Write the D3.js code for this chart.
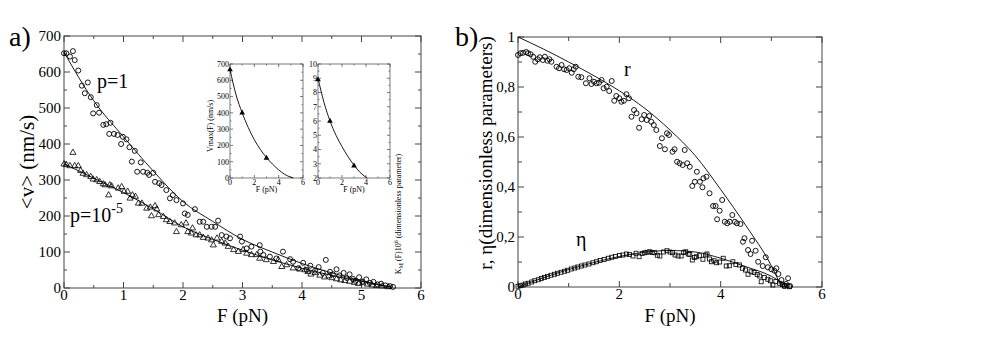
<!DOCTYPE html>
<html>
<head>
<meta charset="utf-8">
<script src="https://cdn.jsdelivr.net/npm/d3@7"></script>
<style>
  body { margin: 0; background: #fff; }
  text { font-family: "Liberation Serif", "Times New Roman", serif; fill: #000; }
</style>
</head>
<body>
<svg width="981" height="359" font-family="Liberation Serif, serif"></svg>
<script>
// ---- panel a) : <v> vs F ----
var p1Pts = [[0,652],[0.04,652],[0.1,643],[0.15,658],[0.18,633],[0.24,604],[0.3,562],[0.35,541],[0.4,571],[0.45,530],[0.49,485],[0.55,508],[0.59,487],[0.66,453],[0.71,455],[0.76,428],[0.78,459],[0.84,428],[0.9,425],[0.96,400],[0.99,420],[1.05,413],[1.1,391],[1.14,351],[1.19,381],[1.23,323],[1.29,349],[1.33,323],[1.4,320],[1.43,314],[1.5,320],[1.53,295],[1.6,291],[1.64,286],[1.72,272],[1.78,249],[1.83,258],[1.89,244],[2.0,235],[2.03,207],[2.08,203],[2.2,219],[2.28,184],[2.34,184],[2.4,170],[2.48,170],[2.54,170],[2.59,187],[2.65,147],[2.73,143],[2.79,138],[2.96,143],[2.99,129],[3.07,110],[3.15,115],[3.29,119],[3.3,101],[3.35,92],[3.46,87],[3.57,82],[3.68,101],[3.8,80],[3.85,73],[3.94,55],[4.02,70],[4.08,50],[4.14,62],[4.22,48],[4.28,58],[4.35,42],[4.4,78],[4.47,45],[4.52,38],[4.58,52],[4.63,35],[4.7,42],[4.75,28],[4.8,38],[4.86,25],[4.9,20],[4.96,30],[5.02,18],[5.08,24],[5.14,14],[5.2,17],[5.27,10],[5.33,12],[5.4,7],[5.48,5],[5.53,3]];

var p5Pts = [[0,344],[0.04,342],[0.1,339],[0.15,376],[0.18,339],[0.24,339],[0.28,326],[0.32,318],[0.38,314],[0.45,309],[0.49,302],[0.55,300],[0.6,295],[0.66,289],[0.69,286],[0.75,258],[0.77,286],[0.8,283],[0.91,277],[0.97,281],[1.01,268],[1.07,268],[1.11,249],[1.15,258],[1.2,254],[1.25,235],[1.31,235],[1.39,221],[1.45,224],[1.47,200],[1.53,228],[1.56,219],[1.59,203],[1.67,198],[1.72,189],[1.78,184],[1.86,180],[1.89,156],[1.97,175],[2.05,180],[2.08,156],[2.14,152],[2.16,166],[2.22,147],[2.28,147],[2.34,140],[2.42,138],[2.48,133],[2.51,119],[2.57,138],[2.65,129],[2.71,124],[2.76,115],[2.85,106],[2.93,101],[3.01,106],[3.07,96],[3.15,92],[3.24,92],[3.29,82],[3.4,78],[3.52,73],[3.6,78],[3.66,59],[3.74,64],[3.85,55],[3.96,52],[4.05,50],[4.1,45],[4.15,38],[4.22,42],[4.3,35],[4.38,30],[4.45,33],[4.5,28],[4.58,25],[4.65,22],[4.72,20],[4.8,18],[4.88,15],[4.95,12],[5.02,14],[5.1,10],[5.18,8],[5.25,6],[5.35,5],[5.45,3]];

var p1Fit = [[0,655],[0.5,520],[1,420],[1.5,325],[2,240],[2.5,185],[3,135],[3.5,100],[4,68],[4.5,42],[5,20],[5.5,2]];
var p5Fit = [[0,345],[0.5,305],[1,265],[1.5,220],[2,170],[2.5,135],[3,105],[3.5,78],[4,55],[4.5,35],[5,18],[5.5,3]];

// insets
var vmaxPts = [[0,665],[1,400],[3,122]];
var vmaxFit = [[0,665],[0.5,510],[1,400],[1.5,310],[2,235],[2.5,175],[3,125],[3.5,85],[4,50],[4.5,22],[5,5],[5.2,0]];
var kmPts = [[0,8.9],[1,6],[3,2.85]];
var kmFit = [[0,9],[0.5,7.3],[1,6],[1.5,5.0],[2,4.2],[2.5,3.5],[3,2.9],[3.5,2.4],[4,2.05],[4.1,2]];

// ---- panel b) : r, eta vs F ----
var rPts = [[0,0.928],[0.05,0.935],[0.1,0.937],[0.16,0.94],[0.2,0.935],[0.25,0.931],[0.3,0.921],[0.34,0.901],[0.39,0.911],[0.43,0.919],[0.49,0.908],[0.53,0.921],[0.58,0.905],[0.62,0.911],[0.66,0.901],[0.76,0.881],[0.81,0.875],[0.86,0.888],[0.91,0.871],[0.96,0.868],[1.01,0.875],[1.06,0.857],[1.1,0.871],[1.14,0.881],[1.19,0.841],[1.25,0.839],[1.34,0.815],[1.41,0.835],[1.45,0.812],[1.5,0.821],[1.55,0.815],[1.6,0.817],[1.65,0.828],[1.69,0.795],[1.75,0.801],[1.8,0.784],[1.85,0.824],[1.9,0.745],[1.94,0.764],[2.0,0.755],[2.04,0.741],[2.09,0.745],[2.14,0.771],[2.19,0.755],[2.24,0.681],[2.29,0.708],[2.34,0.695],[2.39,0.637],[2.44,0.671],[2.49,0.688],[2.54,0.668],[2.59,0.684],[2.63,0.661],[2.68,0.648],[2.73,0.628],[2.8,0.564],[2.84,0.595],[2.9,0.551],[2.94,0.615],[2.98,0.608],[3.05,0.541],[3.09,0.551],[3.14,0.501],[3.19,0.495],[3.25,0.488],[3.29,0.548],[3.34,0.495],[3.39,0.481],[3.44,0.404],[3.49,0.421],[3.53,0.461],[3.59,0.421],[3.64,0.399],[3.66,0.435],[3.72,0.441],[3.78,0.375],[3.85,0.324],[3.9,0.324],[3.93,0.271],[3.98,0.305],[4.03,0.348],[4.08,0.261],[4.13,0.255],[4.18,0.261],[4.23,0.288],[4.28,0.261],[4.32,0.255],[4.39,0.252],[4.44,0.181],[4.47,0.195],[4.54,0.148],[4.59,0.132],[4.62,0.185],[4.69,0.145],[4.74,0.101],[4.83,0.084],[4.89,0.119],[4.93,0.079],[5.0,0.071],[5.06,0.065],[5.1,0.075],[5.14,0.052],[5.2,0.028],[5.26,0.004],[5.29,0.012],[5.33,0.035],[5.37,0.004]];

var etaPts = [[0,0.003],[0.05,0.005],[0.1,0.008],[0.15,0.012],[0.2,0.015],[0.27,0.02],[0.33,0.025],[0.4,0.029],[0.46,0.034],[0.52,0.038],[0.58,0.042],[0.65,0.047],[0.72,0.051],[0.78,0.055],[0.85,0.059],[0.92,0.063],[0.98,0.067],[1.05,0.072],[1.12,0.076],[1.18,0.08],[1.25,0.084],[1.32,0.088],[1.4,0.092],[1.48,0.097],[1.55,0.101],[1.62,0.106],[1.7,0.11],[1.78,0.115],[1.85,0.119],[1.92,0.122],[2.0,0.126],[2.07,0.128],[2.14,0.132],[2.2,0.13],[2.27,0.124],[2.33,0.135],[2.39,0.121],[2.45,0.134],[2.5,0.137],[2.55,0.139],[2.6,0.141],[2.65,0.138],[2.7,0.137],[2.75,0.127],[2.8,0.124],[2.87,0.14],[2.94,0.145],[3.0,0.14],[3.05,0.137],[3.1,0.128],[3.16,0.124],[3.22,0.124],[3.27,0.138],[3.31,0.141],[3.36,0.132],[3.39,0.13],[3.44,0.108],[3.48,0.118],[3.52,0.121],[3.58,0.125],[3.65,0.111],[3.7,0.128],[3.73,0.132],[3.78,0.112],[3.82,0.101],[3.87,0.105],[3.92,0.097],[3.98,0.1],[4.05,0.115],[4.11,0.084],[4.17,0.085],[4.24,0.101],[4.3,0.09],[4.37,0.088],[4.43,0.075],[4.49,0.068],[4.54,0.051],[4.6,0.061],[4.66,0.058],[4.72,0.05],[4.77,0.044],[4.8,0.021],[4.86,0.038],[4.93,0.031],[4.98,0.025],[5.03,0.008],[5.09,0.022],[5.16,0.015],[5.22,0.01],[5.26,0.004],[5.31,0.006],[5.36,0.001]];

var rFit = [[0,1.0],[0.5,0.952],[1,0.9],[1.5,0.845],[2,0.785],[2.5,0.715],[3,0.628],[3.5,0.525],[4,0.39],[4.5,0.245],[5,0.085],[5.2,0]];
var etaFit = [[0,0],[0.5,0.037],[1,0.07],[1.5,0.098],[2,0.122],[2.5,0.139],[3,0.146],[3.5,0.14],[4,0.115],[4.5,0.081],[5,0.043],[5.3,0.005]];

var svg = d3.select("svg");
var frameCol = "#444";

// draws the box, inward ticks on all four sides and the labels
function box(g, x, y, o) {
  var x0 = x.range()[0], x1 = x.range()[1], y0 = y.range()[0], y1 = y.range()[1];
  g.append("rect").attr("x", x0).attr("y", y1).attr("width", x1 - x0).attr("height", y0 - y1)
    .attr("fill", "none").attr("stroke", frameCol).attr("stroke-width", o.sw || 1);
  function tk(vals, len) {
    vals.forEach(function(v) {
      g.append("line").attr("x1", x(v)).attr("x2", x(v)).attr("y1", y0).attr("y2", y0 - len).attr("stroke", frameCol).attr("stroke-width", o.sw || 1);
      g.append("line").attr("x1", x(v)).attr("x2", x(v)).attr("y1", y1).attr("y2", y1 + len).attr("stroke", frameCol).attr("stroke-width", o.sw || 1);
    });
  }
  function tky(vals, len) {
    vals.forEach(function(v) {
      g.append("line").attr("x1", x0).attr("x2", x0 + len).attr("y1", y(v)).attr("y2", y(v)).attr("stroke", frameCol).attr("stroke-width", o.sw || 1);
      g.append("line").attr("x1", x1).attr("x2", x1 - len).attr("y1", y(v)).attr("y2", y(v)).attr("stroke", frameCol).attr("stroke-width", o.sw || 1);
    });
  }
  tk(o.xMaj, o.big); tk(o.xMin, o.small);
  tky(o.yMaj, o.big); tky(o.yMin, o.small);
  g.selectAll(".xl").data(o.xMaj).enter().append("text")
    .attr("x", function(d) { return x(d); }).attr("y", y0 + o.xOff)
    .attr("text-anchor", "middle").style("font-size", o.fs + "px").text(function(d) { return o.xFmt ? o.xFmt(d) : d; });
  g.selectAll(".yl").data(o.yMaj).enter().append("text")
    .attr("x", x0 - o.yOff).attr("y", function(d) { return y(d); }).attr("dy", o.ydy || "0.35em")
    .attr("text-anchor", "end").style("font-size", o.fs + "px").text(function(d) { return o.yFmt ? o.yFmt(d) : d; });
}

function rng(a, b, s) { return d3.range(a, b + s / 2, s); }

// ================= panel a =================
var xa = d3.scaleLinear().domain([0, 6]).range([64, 421]);
var ya = d3.scaleLinear().domain([0, 700]).range([288, 36]);
var ga = svg.append("g");

box(ga, xa, ya, {
  xMaj: rng(0, 6, 1), xMin: rng(0.5, 5.5, 1),
  yMaj: rng(0, 700, 100), yMin: rng(50, 650, 100),
  big: 6, small: 3, fs: 15, xOff: 12, yOff: 3
});

var lineA = d3.line().x(function(d) { return xa(d[0]); }).y(function(d) { return ya(d[1]); }).curve(d3.curveMonotoneX);
ga.append("path").attr("d", lineA(p1Fit)).attr("fill", "none").attr("stroke", "#000").attr("stroke-width", 0.9);
ga.append("path").attr("d", lineA(p5Fit)).attr("fill", "none").attr("stroke", "#000").attr("stroke-width", 0.9);

ga.selectAll(".c1").data(p1Pts).enter().append("circle")
  .attr("cx", function(d) { return xa(d[0]); }).attr("cy", function(d) { return ya(d[1]); })
  .attr("r", 2.5).attr("fill", "none").attr("stroke", "#000").attr("stroke-width", 0.9);

var tri = d3.symbol().type(d3.symbolTriangle).size(16);
ga.selectAll(".t1").data(p5Pts).enter().append("path")
  .attr("d", tri)
  .attr("transform", function(d) { return "translate(" + xa(d[0]) + "," + ya(d[1]) + ")"; })
  .attr("fill", "none").attr("stroke", "#000").attr("stroke-width", 0.8);

ga.append("text").attr("x", 9).attr("y", 46).style("font-size", "28px").text("a)");
ga.append("text").attr("x", xa(3)).attr("y", 322).attr("text-anchor", "middle").style("font-size", "19px").text("F (pN)");
ga.append("text").attr("transform", "translate(34,162) rotate(-90)").attr("text-anchor", "middle")
  .style("font-size", "21px").text("<v> (nm/s)");
ga.append("text").attr("x", 97).attr("y", 88).style("font-size", "20px").text("p=1");
var pl = ga.append("text").attr("x", 70).attr("y", 222).style("font-size", "20px");
pl.append("tspan").text("p=10");
pl.append("tspan").attr("dy", -9).style("font-size", "14px").text("-5");

// ---- insets ----
var xi1 = d3.scaleLinear().domain([0, 6]).range([230, 303]);
var yi1 = d3.scaleLinear().domain([0, 700]).range([178, 64]);
var gi1 = svg.append("g");
box(gi1, xi1, yi1, {
  xMaj: [0, 2, 4, 6], xMin: [1, 3, 5],
  yMaj: rng(0, 700, 100), yMin: rng(50, 650, 100),
  big: 3, small: 1.5, fs: 8, xOff: 7, yOff: 1, sw: 0.7
});
var lineI1 = d3.line().x(function(d) { return xi1(d[0]); }).y(function(d) { return yi1(d[1]); }).curve(d3.curveMonotoneX);
gi1.append("path").attr("d", lineI1(vmaxFit)).attr("fill", "none").attr("stroke", "#000").attr("stroke-width", 0.9);
var triF = d3.symbol().type(d3.symbolTriangle).size(14);
gi1.selectAll(".m").data(vmaxPts).enter().append("path").attr("d", triF)
  .attr("transform", function(d) { return "translate(" + xi1(d[0]) + "," + yi1(d[1]) + ")"; }).attr("fill", "#000");
gi1.append("text").attr("x", xi1(3)).attr("y", 192).attr("text-anchor", "middle").style("font-size", "8px").text("F (pN)");
gi1.append("text").attr("transform", "translate(213,126) rotate(-90)").attr("text-anchor", "middle")
  .style("font-size", "8px").text("Vmax(F) (nm/s)");

var xi2 = d3.scaleLinear().domain([0, 6]).range([318, 390]);
var yi2 = d3.scaleLinear().domain([2, 10]).range([178, 64]);
var gi2 = svg.append("g");
box(gi2, xi2, yi2, {
  xMaj: [0, 2, 4, 6], xMin: [1, 3, 5],
  yMaj: rng(2, 10, 1), yMin: rng(2.5, 9.5, 1),
  big: 3, small: 1.5, fs: 8, xOff: 7, yOff: 1, sw: 0.7
});
var lineI2 = d3.line().x(function(d) { return xi2(d[0]); }).y(function(d) { return yi2(d[1]); }).curve(d3.curveMonotoneX);
gi2.append("path").attr("d", lineI2(kmFit)).attr("fill", "none").attr("stroke", "#000").attr("stroke-width", 0.9);
gi2.selectAll(".m").data(kmPts).enter().append("path").attr("d", triF)
  .attr("transform", function(d) { return "translate(" + xi2(d[0]) + "," + yi2(d[1]) + ")"; }).attr("fill", "#000");
gi2.append("text").attr("x", xi2(3)).attr("y", 192).attr("text-anchor", "middle").style("font-size", "8px").text("F (pN)");
var km = gi2.append("text").attr("transform", "translate(401,214) rotate(-90)").attr("text-anchor", "middle").style("font-size", "8px");
km.append("tspan").text("K");
km.append("tspan").attr("dy", 2).style("font-size", "6px").text("M");
km.append("tspan").attr("dy", -2).text(" (F)10");
km.append("tspan").attr("dy", -3).style("font-size", "6px").text("6");
km.append("tspan").attr("dy", 3).text(" (dimensionless parameter)");

// ================= panel b =================
var xb = d3.scaleLinear().domain([0, 6]).range([518, 822]);
var yb = d3.scaleLinear().domain([0, 1]).range([287, 37]);
var gb = svg.append("g");
var comma = function(d) { return d === 0 || d === 1 ? String(d) : d3.format(".1f")(d).replace(".", ","); };
box(gb, xb, yb, {
  xMaj: [0, 2, 4, 6], xMin: [1, 3, 5],
  yMaj: rng(0, 1, 0.2), yMin: rng(0.1, 0.9, 0.2),
  big: 6, small: 4, fs: 15, xOff: 12, yOff: 3, yFmt: comma
});
var lineB = d3.line().x(function(d) { return xb(d[0]); }).y(function(d) { return yb(d[1]); }).curve(d3.curveMonotoneX);
gb.append("path").attr("d", lineB(rFit)).attr("fill", "none").attr("stroke", "#000").attr("stroke-width", 0.9);
gb.append("path").attr("d", lineB(etaFit)).attr("fill", "none").attr("stroke", "#000").attr("stroke-width", 0.9);

gb.selectAll(".rc").data(rPts).enter().append("circle")
  .attr("cx", function(d) { return xb(d[0]); }).attr("cy", function(d) { return yb(d[1]); })
  .attr("r", 2.5).attr("fill", "none").attr("stroke", "#000").attr("stroke-width", 0.9);
gb.selectAll(".es").data(etaPts).enter().append("rect")
  .attr("x", function(d) { return xb(d[0]) - 2; }).attr("y", function(d) { return yb(d[1]) - 2; })
  .attr("width", 4).attr("height", 4).attr("fill", "none").attr("stroke", "#000").attr("stroke-width", 0.8);

gb.append("text").attr("x", 455).attr("y", 46).style("font-size", "28px").text("b)");
gb.append("text").attr("x", xb(3)).attr("y", 322).attr("text-anchor", "middle").style("font-size", "19px").text("F (pN)");
gb.append("text").attr("transform", "translate(492,153) rotate(-90)").attr("text-anchor", "middle")
  .style("font-size", "19px").text("r, \u03b7(dimensionless parameters)");
gb.append("text").attr("x", 624).attr("y", 76).style("font-size", "20px").text("r");
gb.append("text").attr("x", 576).attr("y", 246).style("font-size", "20px").text("\u03b7");
</script>
</body>
</html>
